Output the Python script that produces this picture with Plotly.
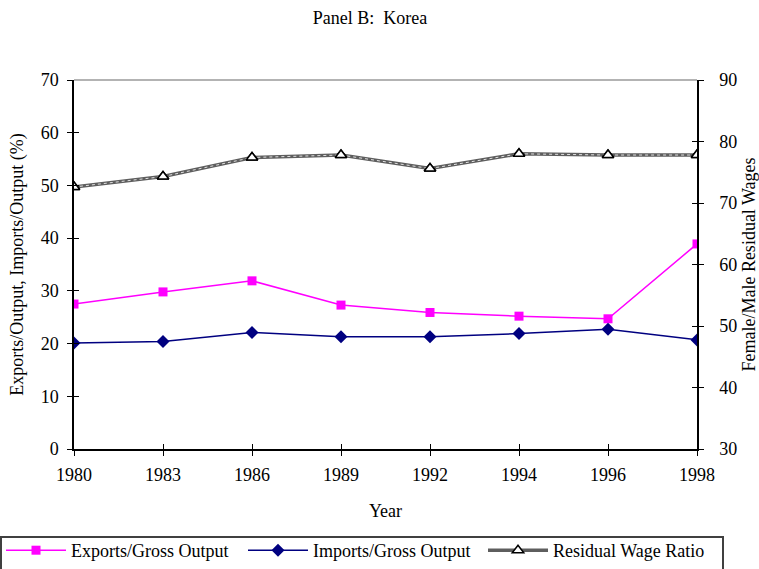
import plotly.graph_objects as go

years = ["1980", "1983", "1986", "1989", "1992", "1994", "1996", "1998"]
exports = [27.5, 29.8, 31.9, 27.3, 25.9, 25.2, 24.7, 38.9]
imports = [20.1, 20.4, 22.1, 21.3, 21.3, 21.9, 22.7, 20.7]
wage_ratio = [72.6, 74.3, 77.4, 77.8, 75.6, 78.0, 77.8, 77.8]

FONT = "Liberation Serif, Times New Roman, serif"
FS = 18

fig = go.Figure()
fig.add_trace(go.Scatter(
    x=years, y=exports, name="Exports/Gross Output", mode="lines+markers",
    legend="legend",
    line=dict(color="#ff00ff", width=1.5),
    marker=dict(symbol="square", size=9, color="#ff00ff"),
))
fig.add_trace(go.Scatter(
    x=years, y=imports, name="Imports/Gross Output", mode="lines+markers",
    legend="legend2",
    line=dict(color="#000080", width=1.5),
    marker=dict(symbol="diamond", size=10, color="#000080"),
))
fig.add_trace(go.Scatter(
    x=years, y=wage_ratio, name="Residual Wage Ratio", mode="lines+markers",
    yaxis="y2", legend="legend3",
    line=dict(color="#5e5e5e", width=3.5),
    marker=dict(symbol="triangle-up", size=10, color="white",
                line=dict(width=1.5, color="black")),
))
# texture overlay for the hatched line (no legend entry)
fig.add_trace(go.Scatter(
    x=years, y=wage_ratio, mode="lines", yaxis="y2", showlegend=False,
    hoverinfo="skip",
    line=dict(color="#e0e0e0", width=1, dash="dot"),
))
fig.add_trace(go.Scatter(
    x=years, y=wage_ratio, mode="markers", yaxis="y2", showlegend=False,
    hoverinfo="skip",
    marker=dict(symbol="triangle-up", size=10, color="white",
                line=dict(width=1.5, color="black")),
))
# invisible traces so the inner-tick axes get drawn
fig.add_trace(go.Scatter(
    x=years, y=exports, mode="markers", xaxis="x2", yaxis="y3", showlegend=False,
    hoverinfo="skip", marker=dict(opacity=0),
))
fig.add_trace(go.Scatter(
    x=years, y=wage_ratio, mode="markers", xaxis="x2", yaxis="y4", showlegend=False,
    hoverinfo="skip", marker=dict(opacity=0),
))

common_tick = dict(family=FONT, size=FS, color="black")
W, H = 759, 569
L, R, T, B = 74, 697, 80, 449


def legend_at(px):
    return dict(
        orientation="h", xref="container", yref="container",
        x=px / W, xanchor="left", y=1 - 532 / H, yanchor="top",
        borderwidth=0, bgcolor="rgba(0,0,0,0)", itemwidth=60,
        font=dict(family=FONT, size=FS, color="black"),
    )


fig.update_layout(
    width=W, height=H,
    margin=dict(l=L, r=W - R, t=T, b=H - B, autoexpand=False),
    paper_bgcolor="white", plot_bgcolor="white",
    font=dict(family=FONT, size=FS, color="black"),
    title=dict(text="Panel B:  Korea", x=370 / W, xref="container", xanchor="center",
               y=1 - 18 / H, yref="container", yanchor="middle",
               font=dict(family=FONT, size=FS, color="black")),
    xaxis=dict(
        type="category", range=[0, 7], showgrid=False, zeroline=False,
        showline=True, linecolor="black", linewidth=1.5, automargin=False,
        ticks="outside", ticklen=5, tickcolor="black", tickwidth=1.2,
        ticklabelstandoff=4,
        title=dict(text="Year", standoff=20, font=dict(family=FONT, size=FS)),
        tickfont=common_tick,
    ),
    xaxis2=dict(
        type="category", range=[0, 7], overlaying="x", side="bottom",
        showgrid=False, zeroline=False, showline=False, automargin=False,
        ticks="inside", ticklen=5, tickcolor="black", tickwidth=1.2,
        showticklabels=False,
    ),
    yaxis=dict(
        range=[0, 70], dtick=10, showgrid=False, zeroline=False,
        showline=True, linecolor="black", linewidth=1.5, automargin=False,
        ticks="outside", ticklen=5, tickcolor="black", tickwidth=1.2,
        ticklabelstandoff=5,
        title=dict(text="Exports/Output, Imports/Output (%)", standoff=12,
                   font=dict(family=FONT, size=FS)),
        tickfont=common_tick,
    ),
    yaxis3=dict(
        range=[0, 70], dtick=10, overlaying="y", side="left",
        showgrid=False, zeroline=False, showline=False, automargin=False,
        ticks="inside", ticklen=5, tickcolor="black", tickwidth=1.2,
        showticklabels=False,
    ),
    yaxis2=dict(
        range=[30, 90], dtick=10, overlaying="y", side="right",
        showgrid=False, zeroline=False, automargin=False,
        showline=True, linecolor="black", linewidth=1.5,
        ticks="outside", ticklen=5, tickcolor="black", tickwidth=1.2,
        ticklabelstandoff=12,
        title=dict(text="Female/Male Residual Wages", standoff=15,
                   font=dict(family=FONT, size=FS)),
        tickfont=common_tick,
    ),
    yaxis4=dict(
        range=[30, 90], dtick=10, overlaying="y", side="right",
        showgrid=False, zeroline=False, showline=False, automargin=False,
        ticks="inside", ticklen=5, tickcolor="black", tickwidth=1.2,
        showticklabels=False,
    ),
    legend=legend_at(1),
    legend2=legend_at(243),
    legend3=legend_at(483),
    shapes=[
        dict(type="line", xref="paper", yref="paper", x0=0, x1=1, y0=1, y1=1,
             line=dict(color="#9a9a9a", width=1.5)),
        # legend frame
        dict(type="rect", xref="paper", yref="paper",
             x0=(1 - L) / (R - L), x1=(723 - L) / (R - L),
             y0=(B - 537) / (B - T), y1=(B - 575) / (B - T),
             line=dict(color="#404040", width=2), fillcolor="rgba(0,0,0,0)",
             layer="below"),
    ],
)

fig.write_html("out.html", config={"displayModeBar": False},
               post_script="document.body.style.margin='0';")
